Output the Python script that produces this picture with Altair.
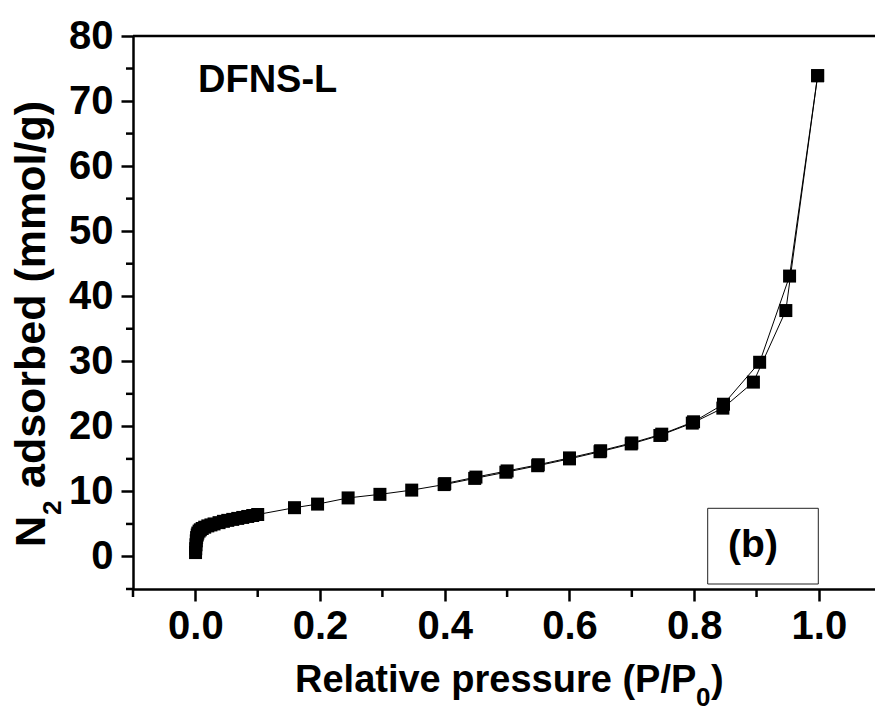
import altair as alt
import pandas as pd

# Adsorption branch (P/P0, mmol/g)
ads_p = [0.0003, 0.0006, 0.001, 0.0015, 0.002, 0.003, 0.004, 0.006, 0.008, 0.011,
         0.015, 0.02, 0.025, 0.03, 0.038, 0.045, 0.052, 0.06, 0.068, 0.076, 0.084,
         0.092, 0.1, 0.159, 0.196, 0.245, 0.296, 0.347, 0.399, 0.448, 0.498, 0.549,
         0.6, 0.649, 0.699, 0.745, 0.797, 0.846, 0.895, 0.947, 0.998]
ads_v = [0.6, 1.2, 1.8, 2.4, 2.9, 3.3, 3.6, 3.9, 4.1, 4.3,
         4.5, 4.7, 4.85, 5.0, 5.2, 5.4, 5.55, 5.7, 5.85, 6.0, 6.15,
         6.3, 6.45, 7.5, 8.05, 9.0, 9.55, 10.2, 11.05, 12.0, 12.95, 13.95,
         15.0, 16.1, 17.3, 18.6, 20.5, 22.8, 26.8, 37.8, 73.9]

# Desorption branch
des_p = [0.998, 0.953, 0.905, 0.847, 0.799, 0.748, 0.700, 0.650, 0.600, 0.550,
         0.500, 0.450, 0.400]
des_v = [73.9, 43.1, 29.85, 23.4, 20.7, 18.8, 17.45, 16.25, 15.15, 14.1,
         13.15, 12.2, 11.2]

x_major = [0.0, 0.2, 0.4, 0.6, 0.8, 1.0]
x_minor = [-0.1, 0.1, 0.3, 0.5, 0.7, 0.9]
y_major = [0, 10, 20, 30, 40, 50, 60, 70, 80]
y_minor = [-5, 5, 15, 25, 35, 45, 55, 65, 75]

W, H = 742, 553
FONT = "Liberation Sans, Arial"
FS = 40

rows = []
for i, (p, v) in enumerate(zip(ads_p, ads_v)):
    rows.append({"p": p, "v": v, "branch": "ads", "idx": i})
for i, (p, v) in enumerate(zip(des_p, des_v)):
    rows.append({"p": p, "v": v, "branch": "des", "idx": i})
df = pd.DataFrame(rows)

xscale = alt.Scale(domain=[-0.1, 1.09], nice=False, zero=False)
yscale = alt.Scale(domain=[-5, 80], nice=False, zero=False)

axis_common = dict(
    labelFont=FONT, labelFontSize=FS, labelFontWeight="bold", labelColor="black",
    tickColor="black", tickWidth=2.5, tickSize=12, domainColor="black",
    domainWidth=2.5, grid=False, title=None, labelFlush=False, labelOverlap=False,
)

xax = alt.Axis(values=x_major, format=".1f", labelPadding=5, **axis_common)
yax = alt.Axis(values=y_major, format="d", labelPadding=8, **axis_common)

base = alt.Chart(df).encode(
    x=alt.X("p:Q", scale=xscale, axis=xax),
    y=alt.Y("v:Q", scale=yscale, axis=yax),
)

lines = base.mark_line(color="black", strokeWidth=1).encode(
    detail="branch:N", order="idx:Q"
)
pts = base.mark_square(size=169, color="black", opacity=1)

one = pd.DataFrame({"a": [0]})

xminor = alt.Chart(pd.DataFrame({"t": x_minor})).mark_rule(
    color="black", strokeWidth=2.5
).encode(x=alt.X("t:Q", scale=xscale), y=alt.value(H), y2=alt.value(H + 8))

yminor = alt.Chart(pd.DataFrame({"t": y_minor})).mark_rule(
    color="black", strokeWidth=2.5
).encode(y=alt.Y("t:Q", scale=yscale), x=alt.value(0), x2=alt.value(-7))

topline = alt.Chart(one).mark_rule(color="black", strokeWidth=2.5).encode(
    x=alt.value(0), x2=alt.value(W), y=alt.value(0)
)


def txt(s, x, y, size=FS, angle=0, align="left", baseline="alphabetic"):
    kw = dict(font=FONT, fontSize=size, fontWeight="bold", color="black",
              align=align, baseline=baseline, text=s)
    if angle:
        kw["angle"] = angle
    return alt.Chart(one).mark_text(**kw).encode(x=alt.value(x), y=alt.value(y))


# y-axis title with subscript
yt1 = txt("N", -88, 511, size=43, angle=270)
yt2 = txt("2", -72, 479, size=26, angle=270)
yt3 = txt("adsorbed (mmol/g)", -88, 452, size=43, angle=270)

# x-axis title with subscript
xt1 = txt("Relative pressure (P/P", 162, 656, size=38)
xt2 = txt("0", 563, 670, size=26)
xt3 = txt(")", 578, 656, size=38)

label = txt("DFNS-L", 65, 56, size=38)

box = alt.Chart(one).mark_rect(filled=False, stroke="#222", strokeWidth=1).encode(
    x=alt.value(574.7), x2=alt.value(685.3), y=alt.value(472.3), y2=alt.value(548)
)
btxt = txt("(b)", 620, 521, size=39, align="center")

chart = alt.layer(
    lines, pts, xminor, yminor, topline, yt1, yt2, yt3, xt1, xt2, xt3, label, box, btxt
).properties(
    width=W, height=H,
    padding={"left": 133, "top": 36, "right": 0, "bottom": 122},
    autosize=alt.AutoSizeParams(type="none"),
    background="white",
).configure_view(stroke=None)

chart.save("out.html", embed_options={"renderer": "svg", "actions": False})
